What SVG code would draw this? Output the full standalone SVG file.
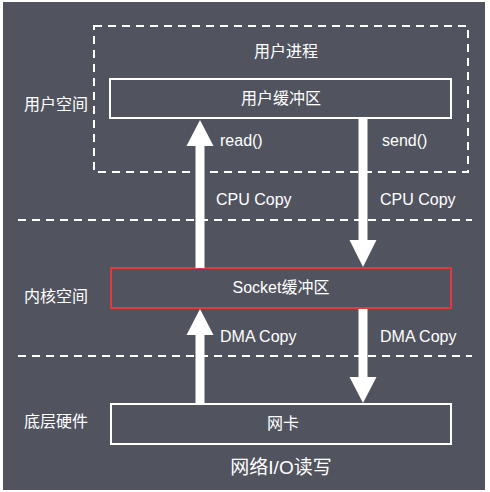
<svg xmlns="http://www.w3.org/2000/svg" width="490" height="492" viewBox="0 0 490 492">
<style>
text{font-family:"Liberation Sans","Noto Sans CJK SC",sans-serif;fill:#ffffff;font-size:16px}
.c{text-anchor:middle}
.box{fill:none;stroke:#ffffff;stroke-width:2}
.dash{fill:none;stroke:#ffffff;stroke-width:2;stroke-dasharray:8 6}
.arr{fill:#ffffff}
</style>
<rect x="0" y="0" width="490" height="492" fill="#ffffff"/>
<rect x="3" y="2" width="482" height="488" fill="#51545f"/>
<g id="layers">
<line class="dash" x1="18" y1="220" x2="472" y2="220"/>
<line class="dash" x1="18" y1="356" x2="472" y2="356"/>
<text x="24" y="110">用户空间</text>
<text x="24" y="302">内核空间</text>
<text x="24" y="427">底层硬件</text>
</g>
<g id="user-process">
<rect class="dash" x="94" y="26" width="374" height="146"/>
<text class="c" x="286" y="57">用户进程</text>
</g>
<g id="user-buffer">
<rect class="box" x="110" y="79" width="341" height="39"/>
<text class="c" x="281" y="104">用户缓冲区</text>
</g>
<g id="socket-buffer">
<rect x="111" y="268" width="340" height="40" fill="none" stroke="#e0393e" stroke-width="2"/>
<text class="c" x="281" y="293">Socket缓冲区</text>
</g>
<g id="nic">
<rect class="box" x="111" y="404" width="340" height="40"/>
<text class="c" x="283" y="429">网卡</text>
</g>
<g id="connectors">
<rect class="arr" x="195.5" y="144" width="9" height="124"/>
<polygon class="arr" points="200,120 213.5,146 186.5,146"/>
<rect class="arr" x="358.5" y="119" width="9" height="123"/>
<polygon class="arr" points="363,267 376.5,240 349.5,240"/>
<rect class="arr" x="195.5" y="333" width="9" height="71"/>
<polygon class="arr" points="200,309 213.5,335 186.5,335"/>
<rect class="arr" x="358.5" y="309" width="9" height="70"/>
<polygon class="arr" points="363,403 376.5,377 349.5,377"/>
<text x="220" y="146">read()</text>
<text x="382" y="146">send()</text>
<text x="216" y="205">CPU Copy</text>
<text x="380" y="205">CPU Copy</text>
<text x="220" y="342">DMA Copy</text>
<text x="380" y="342">DMA Copy</text>
</g>
<text class="c" x="281" y="474" style="font-size:19px">网络I/O读写</text>
</svg>
